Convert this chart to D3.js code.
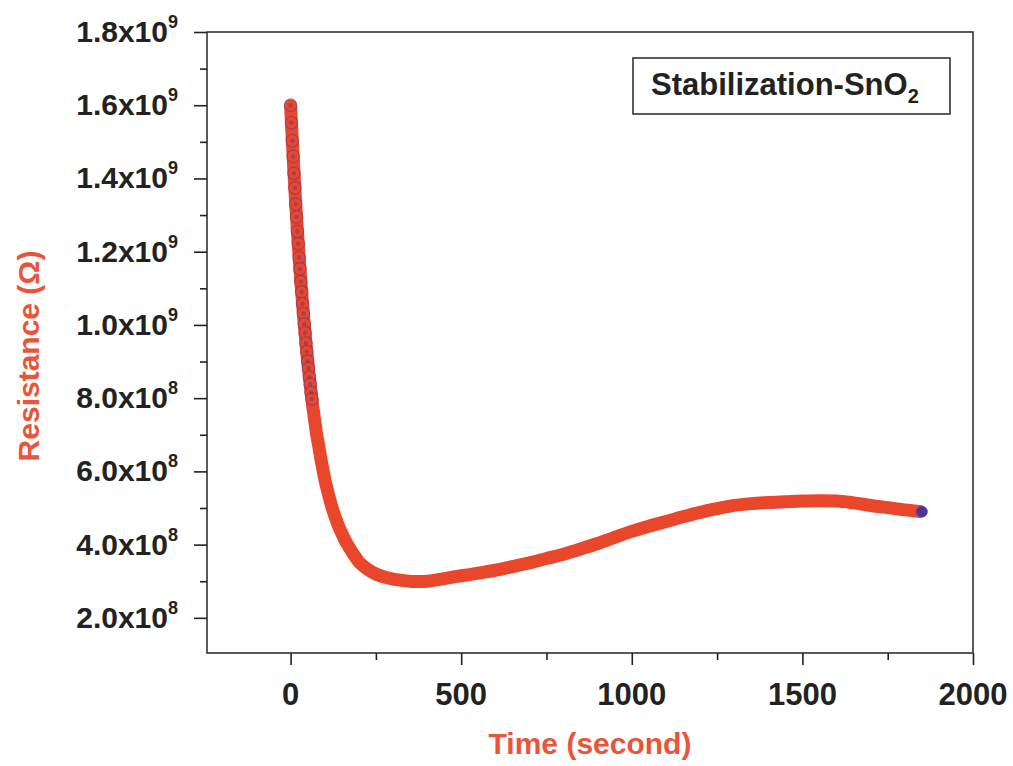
<!DOCTYPE html>
<html>
<head>
<meta charset="utf-8">
<script src="https://cdn.jsdelivr.net/npm/d3@7"></script>
<style>
  html, body { margin: 0; padding: 0; background: #fff; }
  svg { display: block; }
  text { font-family: "Liberation Sans", Arial, Helvetica, sans-serif; font-weight: bold; }
</style>
</head>
<body>
<svg id="chart" width="1013" height="766"></svg>
<script>
// Sensor stabilization run: resistance of the SnO2 film over time
const timeSec = [
  0, 2.5, 5, 7.5, 10, 12.5, 15, 17.5, 20, 22.5, 25, 27.5, 30, 32.5, 35, 37.5,
  40, 42.5, 45, 47.5, 50, 52.5, 55, 57.5, 60, 62.5, 65, 67.5, 70, 72.5, 75,
  80, 85, 90, 95, 100, 110, 120, 130, 140, 150, 160, 170, 180, 190, 200,
  215, 230, 245, 260, 280, 300, 320, 340, 360, 380, 400, 425, 450, 475, 500,
  525, 550, 575, 600, 650, 700, 750, 800, 850, 900, 950, 1000, 1050, 1100,
  1150, 1200, 1250, 1300, 1350, 1400, 1450, 1500, 1550, 1600, 1650, 1700,
  1750, 1800, 1850
];
const resistanceOhm = [
  16.00e8, 15.52e8, 15.03e8, 14.60e8, 14.14e8, 13.74e8, 13.30e8, 12.95e8,
  12.55e8, 12.22e8, 11.84e8, 11.53e8, 11.18e8, 10.90e8, 10.58e8, 10.31e8,
  10.02e8, 9.78e8, 9.50e8, 9.27e8, 9.01e8, 8.81e8, 8.57e8, 8.38e8, 8.15e8,
  7.98e8, 7.77e8, 7.61e8, 7.42e8, 7.27e8, 7.09e8,
  6.82e8, 6.55e8, 6.28e8, 6.04e8, 5.80e8, 5.41e8, 5.06e8, 4.77e8, 4.52e8,
  4.31e8, 4.11e8, 3.95e8, 3.80e8, 3.66e8, 3.53e8,
  3.40e8, 3.30e8, 3.22e8, 3.16e8, 3.10e8, 3.06e8, 3.03e8, 3.01e8, 2.99e8,
  2.99e8, 3.00e8, 3.03e8, 3.07e8, 3.11e8, 3.15e8,
  3.18e8, 3.22e8, 3.26e8, 3.30e8, 3.40e8, 3.50e8, 3.62e8, 3.74e8, 3.88e8,
  4.03e8, 4.20e8, 4.36e8, 4.50e8, 4.63e8,
  4.76e8, 4.88e8, 4.98e8, 5.07e8, 5.12e8, 5.15e8, 5.17e8, 5.19e8, 5.20e8,
  5.19e8, 5.14e8, 5.07e8,
  5.01e8, 4.95e8, 4.90e8
];

// Axis ticks
const xMajorTicks = [0, 500, 1000, 1500, 2000];
const xMinorTicks = [250, 750, 1250, 1750];
const yMajorTicks = [2e8, 4e8, 6e8, 8e8, 1e9, 1.2e9, 1.4e9, 1.6e9, 1.8e9];
const yMinorTicks = [3e8, 5e8, 7e8, 9e8, 1.1e9, 1.3e9, 1.5e9, 1.7e9];

const xTitle = "Time (second)";
const yTitle = "Resistance (\u03A9)";
const legendText = "Stabilization-SnO";
const legendSub = "2";

const RED = "#e9472b";
const PURPLE = "#4b3594";
const TITLE = "#e9553b";
const INK = "#222";

const svg = d3.select("#chart");
const plot = { left: 207, right: 973, top: 32, bottom: 653 };

const x = d3.scaleLinear().domain([-245, 2000]).range([plot.left, plot.right]);
const y = d3.scaleLinear().domain([1.04e8, 1.8e9]).range([plot.bottom, plot.top]);

const data = timeSec.map((t, i) => ({ t, r: resistanceOhm[i] }));

// frame
svg.append("rect")
  .attr("x", plot.left).attr("y", plot.top)
  .attr("width", plot.right - plot.left).attr("height", plot.bottom - plot.top)
  .attr("fill", "none").attr("stroke", "#333").attr("stroke-width", 1.6);

// axes (ticks only, labels drawn separately)
function styleAxis(g) {
  g.select(".domain").remove();
  g.selectAll(".tick line").attr("stroke", INK).attr("stroke-width", 1.6);
  g.selectAll(".tick text").remove();
}
svg.append("g").attr("transform", `translate(0,${plot.bottom})`)
  .call(d3.axisBottom(x).tickValues(xMajorTicks).tickSize(12)).call(styleAxis);
svg.append("g").attr("transform", `translate(0,${plot.bottom})`)
  .call(d3.axisBottom(x).tickValues(xMinorTicks).tickSize(7)).call(styleAxis);
svg.append("g").attr("transform", `translate(${plot.left},0)`)
  .call(d3.axisLeft(y).tickValues(yMajorTicks).tickSize(13)).call(styleAxis);
svg.append("g").attr("transform", `translate(${plot.left},0)`)
  .call(d3.axisLeft(y).tickValues(yMinorTicks).tickSize(7)).call(styleAxis);

// x tick labels
svg.append("g").selectAll("text").data(xMajorTicks).join("text")
  .attr("x", d => x(d)).attr("y", 705)
  .attr("text-anchor", "middle")
  .attr("font-size", 31).attr("fill", INK)
  .text(d => d);

// y tick labels as mantissa x 10^exponent
const yLab = svg.append("g").selectAll("text").data(yMajorTicks).join("text")
  .attr("x", 178).attr("y", d => y(d) + 10)
  .attr("text-anchor", "end")
  .attr("font-size", 30).attr("fill", INK);
yLab.each(function (d) {
  const e = Math.floor(Math.log10(d) + 1e-9);
  const m = (d / Math.pow(10, e)).toFixed(1);
  const t = d3.select(this);
  t.append("tspan").text(`${m}x10`);
  t.append("tspan").attr("dy", -14).attr("font-size", 18).text(e);
});

// axis titles
svg.append("text")
  .attr("x", (plot.left + plot.right) / 2).attr("y", 754)
  .attr("text-anchor", "middle").attr("font-size", 30).attr("fill", TITLE)
  .text(xTitle);
svg.append("text")
  .attr("transform", "translate(39,356) rotate(-90)")
  .attr("text-anchor", "middle").attr("font-size", 30).attr("fill", TITLE)
  .text(yTitle);

// legend box
svg.append("rect")
  .attr("x", 633).attr("y", 58).attr("width", 317).attr("height", 56)
  .attr("fill", "#fff").attr("stroke", "#333").attr("stroke-width", 1.6);
const leg = svg.append("text").attr("x", 651).attr("y", 95)
  .attr("font-size", 31).attr("fill", INK);
leg.append("tspan").text(legendText);
leg.append("tspan").attr("dy", 8).attr("font-size", 20).text(legendSub);

// data: dense band through the readings
const line = d3.line().x(d => x(d.t)).y(d => y(d.r)).curve(d3.curveMonotoneX);
svg.append("path").datum(data)
  .attr("d", line)
  .attr("fill", "none").attr("stroke", RED)
  .attr("stroke-width", 13)
  .attr("stroke-linecap", "butt").attr("stroke-linejoin", "round");

// individual symbols where successive readings are well separated
const early = data.filter(d => d.t <= 62.5);
svg.append("g").selectAll("circle").data(early).join("circle")
  .attr("cx", d => x(d.t)).attr("cy", d => y(d.r)).attr("r", 6.3)
  .attr("fill", RED).attr("stroke", PURPLE)
  .attr("stroke-width", 1.2).attr("stroke-opacity", 0.45);
svg.append("g").selectAll("circle").data(early).join("circle")
  .attr("cx", d => x(d.t)).attr("cy", d => y(d.r)).attr("r", 2.2)
  .attr("fill", PURPLE).attr("fill-opacity", 0.4);

// final reading
const last = data[data.length - 1];
svg.append("circle")
  .attr("cx", x(last.t)).attr("cy", y(last.r)).attr("r", 5.5)
  .attr("fill", PURPLE).attr("stroke", "#6a3f9e").attr("stroke-width", 1);
</script>
</body>
</html>
